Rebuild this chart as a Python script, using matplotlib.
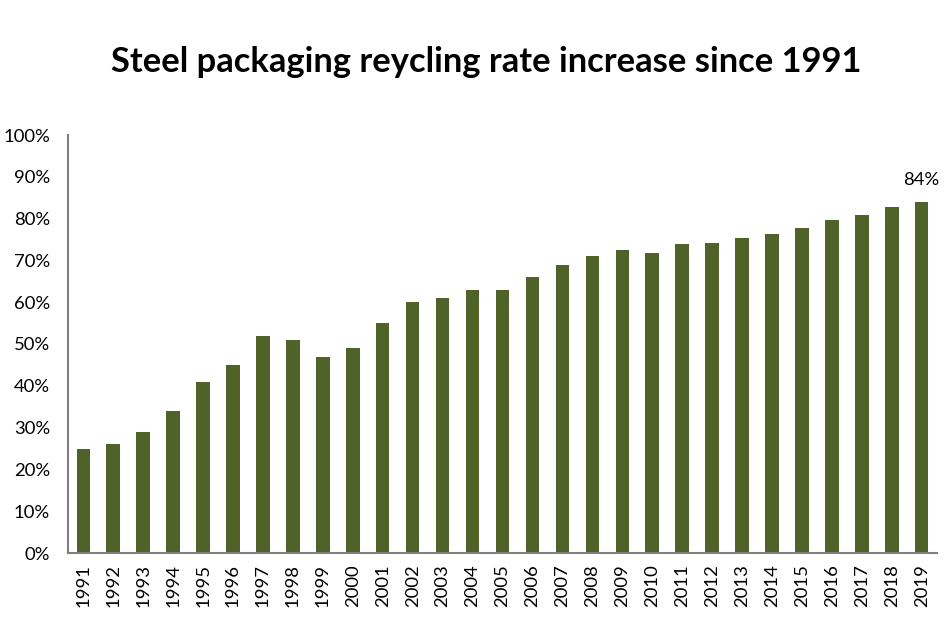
import matplotlib.pyplot as plt
from matplotlib.ticker import FuncFormatter

plt.rcParams['font.family'] = ['Lato', 'DejaVu Sans']

years = [str(y) for y in range(1991, 2020)]
rates = [25, 26, 29, 34, 41, 45, 52, 51, 47, 49, 55, 60, 61, 63, 63,
         66, 69, 71, 72.4, 71.7, 73.9, 74.1, 75.3, 76.3, 77.7, 79.6,
         80.8, 82.7, 84]
bar_color = '#4f6228'
axis_color = '#808080'

fig = plt.figure(figsize=(9.53, 6.23), dpi=100)
ax = fig.add_axes([68.3 / 953, 1 - 553 / 623, 868.4 / 953, 418 / 623])

x = range(len(years))
ax.bar(x, rates, width=0.45, color=bar_color)
ax.set_xlim(-0.5, len(years) - 0.5)
ax.set_ylim(0, 100)
ax.set_yticks(range(0, 101, 10))
ax.yaxis.set_major_formatter(FuncFormatter(lambda v, p: f"{int(v)}%"))
ax.set_xticks(list(x))
ax.set_xticklabels(years, rotation=90)
ax.tick_params(axis='both', length=0, labelsize=13.3, colors='black')
ax.tick_params(axis='x', pad=8)
ax.tick_params(axis='y', pad=13)

for s in ['top', 'right']:
    ax.spines[s].set_visible(False)
for s in ['left', 'bottom']:
    ax.spines[s].set_color(axis_color)
    ax.spines[s].set_linewidth(1.5)

ax.annotate(f"{rates[-1]:.0f}%", (len(years) - 1, rates[-1]),
            xytext=(0, 10), textcoords='offset points',
            ha='center', va='bottom', fontsize=13.3)

fig.text(486 / 953, 1 - 62 / 623, "Steel packaging reycling rate increase since 1991",
         ha='center', va='center', fontsize=24.8, fontweight='bold')

fig.savefig('out.png', dpi=100)
